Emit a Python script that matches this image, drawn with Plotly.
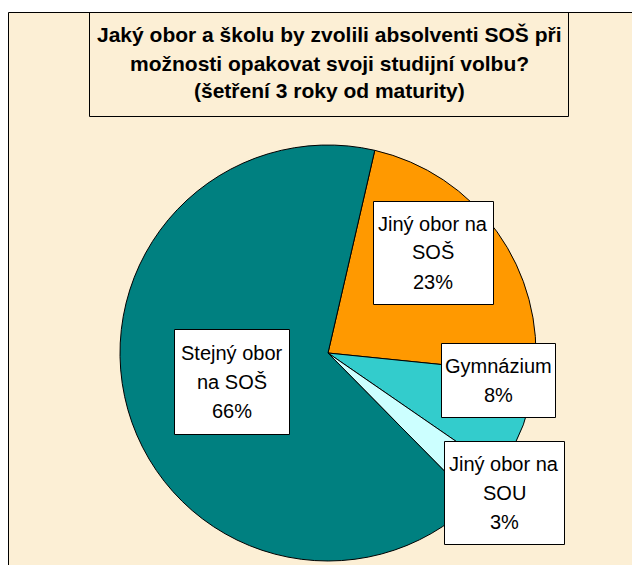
import plotly.graph_objects as go

# ---- data ----
categories = ["Jiný obor na SOŠ", "Gymnázium", "Jiný obor na SOU", "Stejný obor na SOŠ"]
values = [23, 8, 3, 66]
label_lines = [["Jiný obor na", "SOŠ"], ["Gymnázium"], ["Jiný obor na", "SOU"], ["Stejný obor", "na SOŠ"]]
colors = ["#FF9900", "#33CCCC", "#CCFFFF", "#008080"]
title_lines = ["Jaký obor a školu by zvolili absolventi SOŠ při",
               "možnosti opakovat svoji studijní volbu?",
               "(šetření 3 roky od maturity)"]

W, H = 632, 565
def px(x):
    return x / W
def py(y):
    return 1 - y / H

# pie geometry (page pixels)
cx, cy, r = 328, 353, 208

fig = go.Figure()
fig.add_trace(go.Pie(
    labels=categories, values=values, sort=False, direction="clockwise", rotation=13,
    marker=dict(colors=colors, line=dict(color="black", width=1)),
    textinfo="none", hoverinfo="label+percent", showlegend=False,
    domain=dict(x=[px(cx - r), px(cx + r)], y=[py(cy + r), py(cy - r)]),
))

shapes = []
# chart area background with border
shapes.append(dict(type="rect", xref="paper", yref="paper", layer="below",
                   x0=px(8.5), x1=1.05, y0=-0.05, y1=py(12.5),
                   fillcolor="#FCEFD5", line=dict(color="black", width=1)))
# title box
shapes.append(dict(type="rect", xref="paper", yref="paper", layer="below",
                   x0=px(89.5), x1=px(568.5), y0=py(116.5), y1=py(12.5),
                   line=dict(color="black", width=1)))

annotations = []
tl_y = [35, 63, 91]
for t, y in zip(title_lines, tl_y):
    annotations.append(dict(text=t, x=px(329), y=py(y), xref="paper", yref="paper",
                            xanchor="center", yanchor="middle", showarrow=False,
                            font=dict(family="Liberation Sans, Arial", size=21, color="black", weight="bold")))

# label boxes (page pixel boxes) and line positions
boxes = [(373, 201, 493, 304), (441, 343, 555, 417), (444, 441, 564, 544), (174, 329, 289, 434)]
line_step = 29
for cat, val, lines, (x0, y0, x1, y1) in zip(categories, values, label_lines, boxes):
    shapes.append(dict(type="rect", xref="paper", yref="paper", layer="above",
                       x0=px(x0 + 0.5), x1=px(x1 + 0.5), y0=py(y1 + 0.5), y1=py(y0 + 0.5),
                       fillcolor="white", line=dict(color="black", width=1)))
    texts = lines + [f"{val}%"]
    n = len(texts)
    ymid = (y0 + y1) / 2
    for i, t in enumerate(texts):
        yy = ymid + (i - (n - 1) / 2) * line_step
        annotations.append(dict(text=t, x=px((x0 + x1) / 2), y=py(yy), xref="paper", yref="paper",
                                xanchor="center", yanchor="middle", showarrow=False,
                                font=dict(family="Liberation Sans, Arial", size=20, color="black")))

fig.update_layout(width=W, height=H, margin=dict(l=0, r=0, t=0, b=0),
                  paper_bgcolor="white", plot_bgcolor="white",
                  shapes=shapes, annotations=annotations)
fig.write_html("out.html", config={"displayModeBar": False},
               post_script="document.body.style.margin='0';document.body.style.overflow='hidden';")
